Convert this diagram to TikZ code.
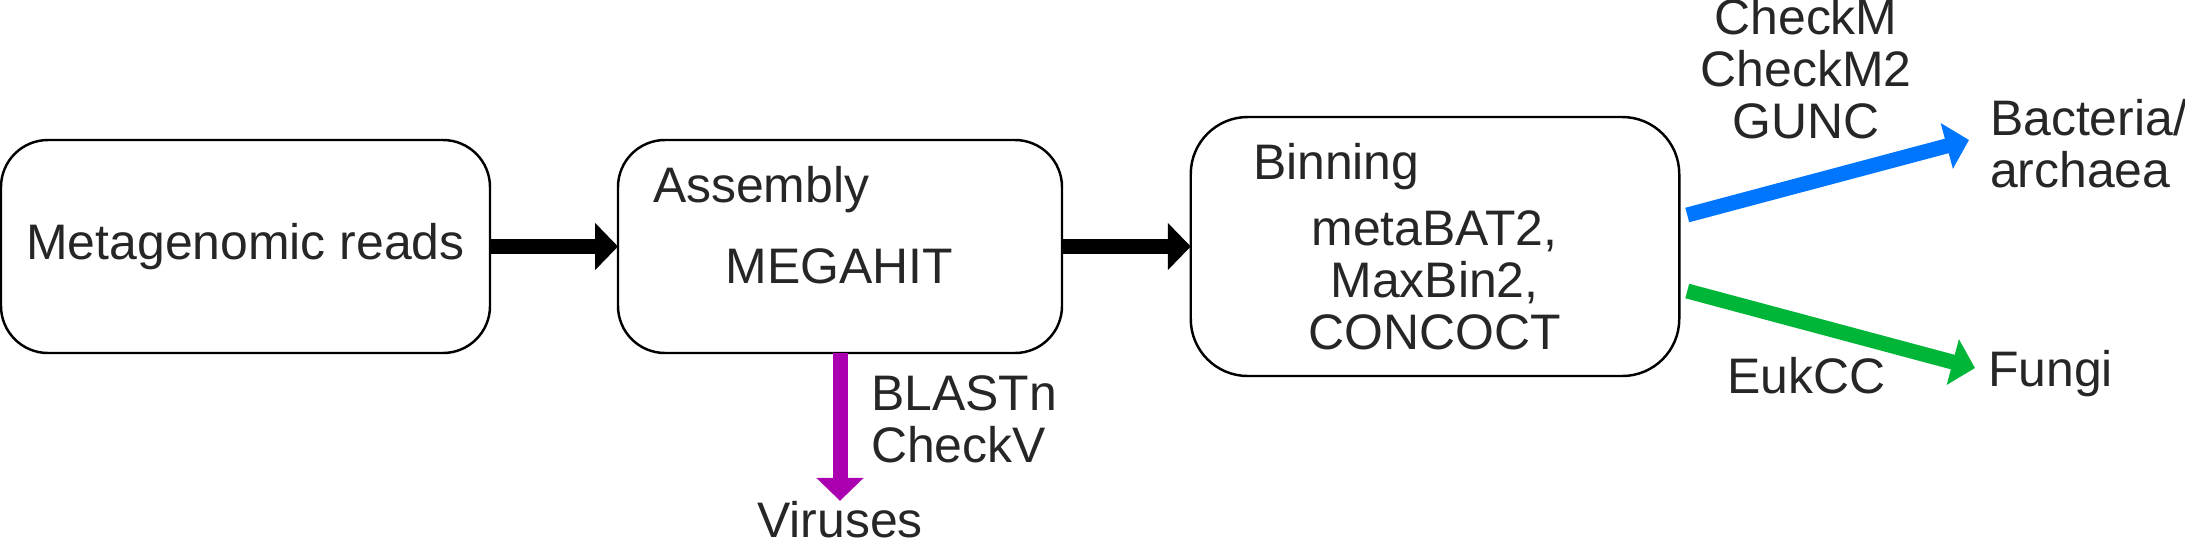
\documentclass[tikz,border=0pt]{standalone}
\usepackage{fontspec}
\setmainfont{Liberation Sans}
\usepackage{xcolor}
\usetikzlibrary{arrows.meta}
\definecolor{textgrey}{RGB}{38, 38, 38}
\definecolor{virpurple}{RGB}{170, 0, 175}
\definecolor{bacblue}{RGB}{0, 118, 255}
\definecolor{fungreen}{RGB}{0, 182, 56}

\begin{document}
\begin{tikzpicture}[every node/.style={outer sep=0pt, text=textgrey, font=\fontsize{14.2}{14.8}\selectfont},
    stage/.style={draw=black, line width=0.7pt, rounded corners=0.47cm, minimum height=2.13cm},
    tooltext/.style={inner sep=0pt, align=center},
    blockarrow/.style={line width=0.15cm, -{Triangle[width=0.46cm,length=0.23cm]}}]
    \useasboundingbox (0,0) rectangle (21.85,-5.39);

    % The three stages of the pipeline
    \node[stage, minimum width=4.89cm] (reads) at (2.455,-2.465) {Metagenomic reads};
    \node[stage, minimum width=4.44cm] (assembly) at (8.40,-2.465) {};
    \node[stage, minimum width=4.885cm, minimum height=2.59cm, rounded corners=0.57cm] (binning) at (14.35,-2.465) {};

    % Text inside the boxes
    \node[tooltext, anchor=base west] (asmTitle) at (6.53,-2.02) {Assembly};
    \node[tooltext, anchor=base] (megahit) at (8.395,-2.83) {MEGAHIT};
    \node[tooltext, anchor=base west] (binTitle) at (12.53,-1.79) {Binning};
    \node[tooltext] (binners) at (14.345,-2.805) {metaBAT2,\\MaxBin2,\\CONCOCT};

    % Outputs, with the tools next to their arrows
    \node[tooltext, anchor=base] (viruses) at (8.40,-5.37) {Viruses};
    \node[tooltext, anchor=west, align=left] (virTools) at (8.71,-4.195) {BLASTn\\CheckV};
    \node[tooltext] (bacTools) at (18.06,-0.69) {CheckM\\CheckM2\\GUNC};
    \node[tooltext, anchor=west, align=left] (bacteria) at (19.90,-1.435) {Bacteria/\\archaea};
    \node[tooltext, anchor=base west] (fungi) at (19.88,-3.86) {Fungi};
    \node[tooltext, anchor=base] (funTools) at (18.065,-3.93) {EukCC};

    % Arrows
    \foreach \a/\b in {reads/assembly, assembly/binning}
        \draw[blockarrow, black] (\a) -- (\b);
    \draw[blockarrow, virpurple] (assembly) -- (viruses);

    \coordinate (bacTail) at ([shift={(0.08,0.315)}]binning.east);
    \coordinate (bacTip) at ([shift={(-0.21,0.035)}]bacteria.west);
    \coordinate (funTail) at ([shift={(0.08,-0.445)}]binning.east);
    \coordinate (funTip) at ([shift={(-0.13,0.18)}]fungi.base west);
    \foreach \from/\to/\col in {bacTail/bacTip/bacblue, funTail/funTip/fungreen}
        \draw[blockarrow, \col] (\from) -- (\to);
\end{tikzpicture}
\end{document}
